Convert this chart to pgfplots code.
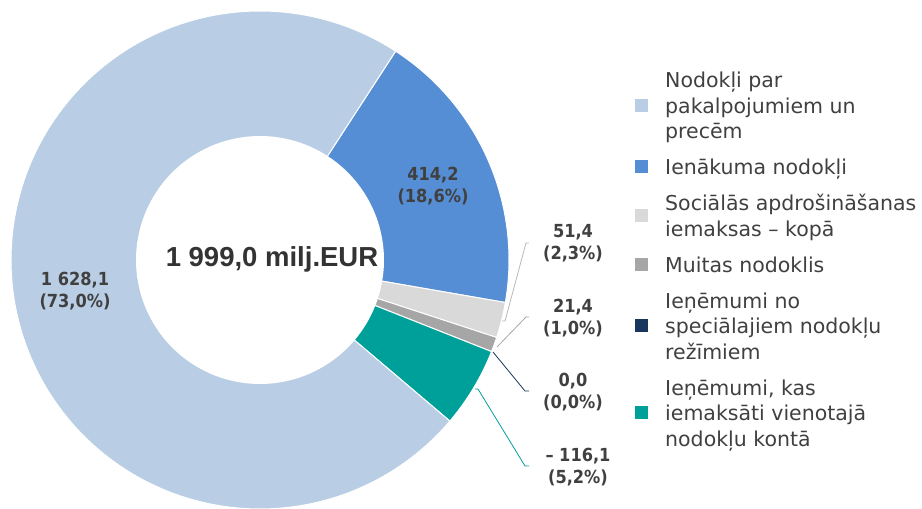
\documentclass[border=0pt]{standalone}
\usepackage{fontspec}
\setmainfont{DejaVu Sans}
\newfontfamily\arialfont{Liberation Sans}
\newfontfamily\condfont{DejaVu Sans Condensed}
\usepackage{pgfplots}
\usepackage{pgfplotstable}
\pgfplotsset{compat=1.18}
\definecolor{cLB}{HTML}{B9CDE5}
\definecolor{cBL}{HTML}{558ED5}
\definecolor{cLG}{HTML}{D9D9D9}
\definecolor{cGR}{HTML}{A6A6A6}
\definecolor{cNV}{HTML}{17375E}
\definecolor{cTL}{HTML}{00A09A}
\definecolor{txt}{HTML}{404040}
\definecolor{txtd}{HTML}{333333}

% values (mln EUR), in legend order
\pgfplotstableread{
value
1628.1
414.2
51.4
21.4
0.0
-116.1
}\datatable

\begin{document}
\begin{tikzpicture}
\pgfplotstablegetelem{0}{value}\of\datatable \pgfmathsetmacro\vA{abs(\pgfplotsretval)}
\pgfplotstablegetelem{1}{value}\of\datatable \pgfmathsetmacro\vB{abs(\pgfplotsretval)}
\pgfplotstablegetelem{2}{value}\of\datatable \pgfmathsetmacro\vC{abs(\pgfplotsretval)}
\pgfplotstablegetelem{3}{value}\of\datatable \pgfmathsetmacro\vD{abs(\pgfplotsretval)}
\pgfplotstablegetelem{4}{value}\of\datatable \pgfmathsetmacro\vE{abs(\pgfplotsretval)}
\pgfplotstablegetelem{5}{value}\of\datatable \pgfmathsetmacro\vF{abs(\pgfplotsretval)}
\pgfmathsetmacro\tot{\vA+\vB+\vC+\vD+\vE+\vF}
\pgfmathsetmacro\aB{57.0}
\pgfmathsetmacro\aC{\aB-360*(\vB/\tot)}
\pgfmathsetmacro\aD{\aC-360*(\vC/\tot)}
\pgfmathsetmacro\aE{\aD-360*(\vD/\tot)}
\pgfmathsetmacro\aF{\aE-360*(\vE/\tot)}
\pgfmathsetmacro\aG{\aF-360*(\vF/\tot)}
\pgfmathsetmacro\aH{\aG-360*(\vA/\tot)}
\begin{axis}[
  width=922pt, height=509pt, scale only axis,
  xmin=0, xmax=922, ymin=0, ymax=509,
  hide axis, clip=false,
  legend cell align=left,
  legend image code/.code={\fill[#1] (0pt,-6.5pt) rectangle (13pt,6.5pt);},
  legend style={at={(axis cs:635,441)}, anchor=north west, draw=none, fill=none,
    inner sep=0pt, row sep=12.8pt, column sep=15pt,
    font=\fontsize{20.5}{25.4}\selectfont, text=txt,
    cells={anchor=west, align=left, inner sep=0pt}},
]
% slices
\addplot[forget plot, fill=cBL, draw=white, line width=1pt, domain=\aC:\aB, samples=80]
  ({260+249*cos(x)},{249+249*sin(x)}) -- (axis cs:260,249) -- cycle;
\addplot[forget plot, fill=cLG, draw=white, line width=1pt, domain=\aD:\aC, samples=20]
  ({260+249*cos(x)},{249+249*sin(x)}) -- (axis cs:260,249) -- cycle;
\addplot[forget plot, fill=cGR, draw=white, line width=1pt, domain=\aE:\aD, samples=12]
  ({260+249*cos(x)},{249+249*sin(x)}) -- (axis cs:260,249) -- cycle;
\addplot[forget plot, fill=cTL, draw=white, line width=1pt, domain=\aG:\aF, samples=30]
  ({260+249*cos(x)},{249+249*sin(x)}) -- (axis cs:260,249) -- cycle;
\addplot[forget plot, fill=cLB, draw=white, line width=1pt, domain=\aH:\aG, samples=200]
  ({260+249*cos(x)},{249+249*sin(x)}) -- (axis cs:260,249) -- cycle;
% hole
\addplot[forget plot, fill=white, draw=none, domain=0:360, samples=200]
  ({260+124*cos(x)},{249+124*sin(x)}) -- cycle;
% leader lines
\addplot[forget plot, color=cLG!85!black, line width=0.8pt, no marks] coordinates {(529,266) (526,266) (505,188) (502,188)};
\addplot[forget plot, color=cGR, line width=0.8pt, no marks] coordinates {(529,192) (526,192) (497,162)};
\addplot[forget plot, color=cNV, line width=0.8pt, no marks] coordinates {(493,157) (525,118) (529,118)};
\addplot[forget plot, color=cTL, line width=0.8pt, no marks] coordinates {(475,120) (478,120) (525,43) (529,43)};
% data labels
\node[font=\condfont\bfseries\fontsize{18}{22}\selectfont, text=txt, align=center] at (axis cs:433,323) {414,2\\(18,6\%)};
\node[font=\condfont\bfseries\fontsize{18}{22}\selectfont, text=txt, align=center] at (axis cs:75,218) {1 628,1\\(73,0\%)};
\node[font=\condfont\bfseries\fontsize{18}{22}\selectfont, text=txt, align=center] at (axis cs:573,265.5) {51,4\\(2,3\%)};
\node[font=\condfont\bfseries\fontsize{18}{22}\selectfont, text=txt, align=center] at (axis cs:573,191) {21,4\\(1,0\%)};
\node[font=\condfont\bfseries\fontsize{18}{22}\selectfont, text=txt, align=center] at (axis cs:573,116.5) {0,0\\(0,0\%)};
\node[font=\condfont\bfseries\fontsize{18}{22}\selectfont, text=txt, align=center] at (axis cs:578,41.5) {– 116,1\\(5,2\%)};
% centre
\node[font=\arialfont\bfseries\fontsize{27.5}{30}\selectfont, text=txtd, anchor=base] at (axis cs:272,242) {1 999,0 milj.EUR};
% legend
\addlegendimage{fill=cLB, draw=none}
\addlegendimage{fill=cBL, draw=none}
\addlegendimage{fill=cLG, draw=none}
\addlegendimage{fill=cGR, draw=none}
\addlegendimage{fill=cNV, draw=none}
\addlegendimage{fill=cTL, draw=none}
\legend{{\strut Nodokļi par\\\strut pakalpojumiem un\\\strut precēm},
  {\strut Ienākuma nodokļi},
  {\strut Sociālās apdrošināšanas\\\strut iemaksas – kopā},
  {\strut Muitas nodoklis},
  {\strut Ieņēmumi no\\\strut speciālajiem nodokļu\\\strut režīmiem},
  {\strut Ieņēmumi, kas\\\strut iemaksāti vienotajā\\\strut nodokļu kontā}}
\end{axis}
\pgfresetboundingbox
\useasboundingbox (current axis.south west) rectangle (current axis.north east);
\end{tikzpicture}
\end{document}
